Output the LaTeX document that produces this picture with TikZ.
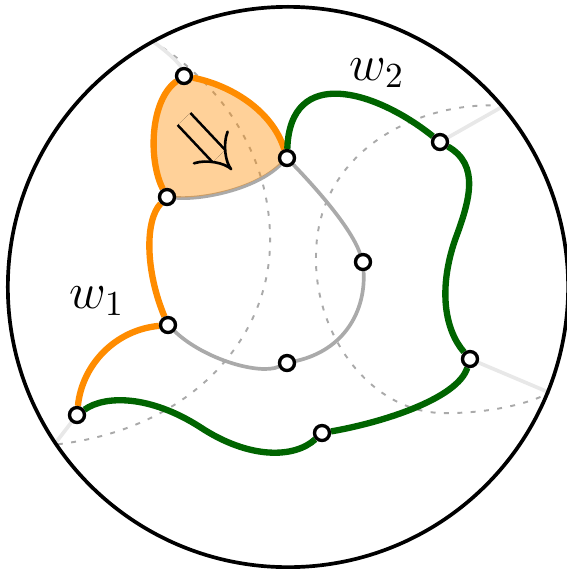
\documentclass[tikz,border=0pt]{standalone}
\usetikzlibrary{arrows.meta,backgrounds}
\definecolor{walkorange}{RGB}{255,140,0}
\definecolor{walkgreen}{RGB}{0,100,0}
\definecolor{edgegray}{RGB}{170,170,170}
\definecolor{ghostgray}{RGB}{232,232,232}
\begin{document}
\begin{tikzpicture}[
    x=0.01cm, y=-0.01cm,
    vertex/.style={circle, draw, fill=white, line width=0.95pt, minimum size=0.15cm, inner sep=0pt},
    rim/.style={circle, draw, line width=1.05pt, minimum size=5.6cm, inner sep=0pt},
    lbl/.style={font=\Large, inner sep=0pt},
    walkone/.style={walkorange, line width=1.8pt},
    walktwo/.style={walkgreen, line width=1.8pt},
    plain/.style={edgegray, line width=1.05pt},
    ghost/.style={ghostgray, line width=1.05pt},
    geodesic/.style={edgegray, line width=0.55pt, dash pattern=on 1.4pt off 2.4pt},
    face/.style={fill=walkorange, fill opacity=0.4},
    flow/.style={-{Implies[scale=1.25]}, double=walkorange!40, double distance=4.2pt, line width=0.75pt}
]
\useasboundingbox (0,0) rectangle (567,569);
\node[rim] (disk) at (288,287) {};
\node[vertex] (cap) at (184,76) {};
\node[vertex] (hub) at (287,158) {};
\node[vertex] (west) at (167,197) {};
\node[vertex] (east) at (363,262) {};
\node[vertex] (knee) at (168,325) {};
\node[vertex] (south) at (287,363) {};
\node[vertex] (foot) at (77,415) {};
\node[vertex] (base) at (322,433) {};
\node[vertex] (ne) at (440,142) {};
\node[vertex] (se) at (470,359) {};
\node[lbl] (w1) at (97,301) {$w_1$};
\node[lbl] (w2) at (377,73) {$w_2$};
\coordinate (pA) at (disk.119);
\coordinate (pB) at (disk.40);
\coordinate (pC) at (disk.-22.4);
\coordinate (pD) at (disk.214.7);
\coordinate (tail) at (184,119);
\coordinate (tip) at (232,170);
\begin{scope}[on background layer]
% dashed geodesics
\draw[geodesic] (pA) .. controls (225,85) and (272,160) .. (270,245)
    .. controls (268,340) and (190,430) .. (pD);
\draw[geodesic] (pB) .. controls (420,100) and (317,150) .. (316,255)
    .. controls (314,335) and (370,410) .. (440,413)
    .. controls (480,414) and (525,406) .. (pC);
% ends to the rim
\draw[ghost] (pA) .. controls (168,52) and (180,64) .. (cap);
\draw[ghost] (ne) -- (pB);
\draw[ghost] (se) -- (pC);
\draw[ghost] (foot) -- (pD);
% gray edges
\draw[plain] (west) .. controls (200,200) and (255,190) .. (hub);
\draw[plain] (hub) .. controls (310,182) and (350,225) .. (east);
\draw[plain] (east) .. controls (366,310) and (345,350) .. (south);
\draw[plain] (south) .. controls (260,375) and (205,360) .. (knee);
% shaded face
\fill[face] (cap.center) .. controls (230,85) and (272,110) .. (hub.center)
    .. controls (255,190) and (200,200) .. (west.center)
    .. controls (148,160) and (150,100) .. (cap.center) -- cycle;
% walk w1
\draw[walkone] (cap) .. controls (230,85) and (272,110) .. (hub);
\draw[walkone] (cap) .. controls (150,100) and (148,160) .. (west);
\draw[walkone] (west) .. controls (145,220) and (145,270) .. (knee);
\draw[walkone] (knee) .. controls (115,330) and (82,365) .. (foot);
% walk w2
\draw[walktwo] (foot) .. controls (105,395) and (150,395) .. (200,427)
    .. controls (250,460) and (295,458) .. (base);
\draw[walktwo] (base) .. controls (385,422) and (458,398) .. (se);
\draw[walktwo] (se) .. controls (445,330) and (438,290) .. (455,240)
    .. controls (470,200) and (480,165) .. (ne);
\draw[walktwo] (ne) .. controls (375,90) and (290,65) .. (hub);
\end{scope}
\draw[flow] (tail) -- (tip);
\end{tikzpicture}
\end{document}
